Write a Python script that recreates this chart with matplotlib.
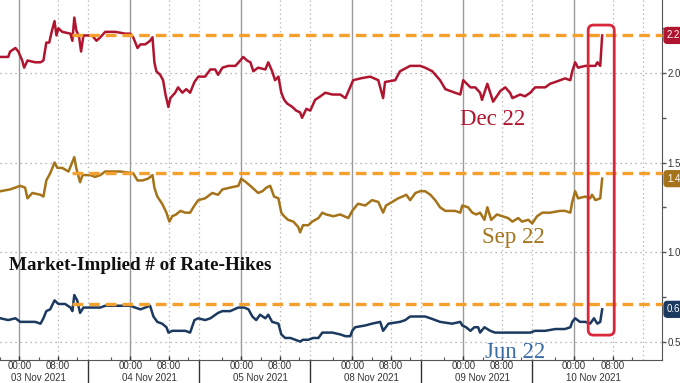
import matplotlib.pyplot as plt
from matplotlib.patches import FancyBboxPatch
from matplotlib.transforms import blended_transform_factory

# x unit: trading hours since 03 Nov 2021 00:00 (23 trading hours per session)
dec_t = [-3.9, -2.3, -1.9, -0.8, -0.2, 0.6, 1.0, 1.7, 3.3, 4.4, 5.0, 5.6, 6.2, 6.8, 7.3, 7.7,
         8.1, 8.9, 10.6, 11.0, 11.4, 11.8, 12.4, 12.8, 13.3, 14.3, 15.1, 16.0, 16.8, 17.8, 19.9,
         22.0, 23.0, 23.6, 24.5, 25.1, 26.1, 27.1, 27.6, 28.0, 28.4, 29.2, 29.8, 30.3, 30.9,
         31.3, 32.3, 32.9, 33.8, 34.6, 35.4, 36.3, 37.1, 38.5, 39.6, 40.6, 41.2, 42.1, 43.3,
         44.8, 45.8, 46.4, 47.2, 47.9, 48.5, 49.5, 51.0, 51.6, 52.4, 53.0, 53.7, 54.3, 54.9,
         55.5, 56.6, 57.4, 58.2, 58.6, 59.5, 60.3, 61.3, 62.4, 63.4, 64.9, 66.5, 67.6, 69.2,
         70.7, 72.7, 74.4, 75.4, 75.8, 77.9, 78.9, 81.0, 83.1, 84.1, 85.6, 87.2, 88.3, 90.3,
         91.4, 92.0, 93.5, 94.5, 95.5, 95.9, 97.0, 98.2, 99.7, 100.7, 101.7, 102.2, 103.8,
         104.8, 105.9, 106.9, 109.0, 110.0, 111.1, 112.1, 113.1, 114.2, 114.6, 115.2, 115.8,
         117.3, 119.4, 119.8, 120.4, 120.8]
dec_v = [2.09, 2.09, 2.12, 2.14, 2.12, 2.07, 2.03, 2.07, 2.06, 2.06, 2.07, 2.17, 2.17, 2.24,
         2.29, 2.21, 2.25, 2.23, 2.22, 2.18, 2.31, 2.24, 2.20, 2.12, 2.21, 2.21, 2.21, 2.18,
         2.20, 2.23, 2.23, 2.22, 2.22, 2.20, 2.14, 2.16, 2.16, 2.18, 2.20, 2.06, 2.01, 1.99,
         1.96, 1.88, 1.81, 1.86, 1.89, 1.92, 1.89, 1.91, 1.89, 1.95, 1.98, 1.98, 2.02, 2.02,
         1.99, 2.03, 2.04, 2.04, 2.07, 2.09, 2.07, 2.06, 2.01, 2.03, 2.02, 2.06, 2.01, 1.96,
         1.98, 1.89, 1.85, 1.83, 1.81, 1.79, 1.78, 1.75, 1.80, 1.79, 1.85, 1.87, 1.89, 1.88,
         1.88, 1.86, 1.96, 1.97, 1.98, 1.96, 1.86, 1.95, 1.96, 2.01, 2.04, 2.04, 2.03, 2.01,
         1.96, 1.91, 1.89, 1.88, 1.96, 1.92, 1.92, 1.89, 1.85, 1.94, 1.84, 1.90, 1.92, 1.89,
         1.86, 1.88, 1.87, 1.89, 1.92, 1.92, 1.94, 1.95, 1.96, 1.97, 1.96, 2.01, 2.06, 2.03,
         2.04, 2.04, 2.06, 2.04, 2.21]

sep_t = [-3.9, -1.9, 0.2, 1.2, 1.7, 2.7, 4.4, 5.0, 5.6, 6.4, 7.3, 7.9, 8.9, 10.2, 11.4, 11.8,
         12.6, 13.1, 14.7, 15.7, 16.8, 17.8, 20.9, 23.6, 24.5, 25.5, 26.7, 27.6, 28.0, 28.6,
         29.6, 30.5, 31.1, 31.7, 32.5, 33.4, 34.4, 35.4, 36.3, 37.1, 38.5, 40.0, 41.2, 42.1,
         43.7, 45.4, 46.0, 47.0, 48.3, 49.5, 50.4, 51.2, 52.0, 52.8, 53.7, 54.3, 54.9, 55.7,
         56.8, 57.8, 58.2, 58.8, 59.9, 60.7, 62.0, 62.8, 63.6, 65.1, 66.5, 68.2, 69.0, 70.2,
         71.7, 73.1, 74.4, 75.4, 76.0, 77.3, 78.5, 79.4, 80.2, 81.0, 82.1, 83.1, 84.1, 85.2,
         86.2, 87.2, 88.3, 90.3, 91.4, 91.8, 93.0, 93.9, 94.7, 95.5, 96.4, 97.0, 97.8, 99.0,
         100.1, 101.3, 102.2, 103.4, 104.2, 105.5, 106.3, 107.3, 108.4, 110.0, 112.1, 113.1,
         114.2, 114.6, 115.2, 115.8, 117.3, 118.3, 118.7, 119.4, 120.4, 120.8]
sep_v = [1.34, 1.35, 1.37, 1.36, 1.30, 1.33, 1.32, 1.31, 1.40, 1.44, 1.50, 1.47, 1.47, 1.45,
         1.53, 1.47, 1.39, 1.43, 1.43, 1.42, 1.43, 1.45, 1.45, 1.44, 1.40, 1.40, 1.41, 1.43,
         1.36, 1.31, 1.27, 1.22, 1.17, 1.20, 1.21, 1.23, 1.22, 1.22, 1.26, 1.29, 1.30, 1.33,
         1.32, 1.35, 1.36, 1.37, 1.41, 1.39, 1.36, 1.33, 1.34, 1.36, 1.37, 1.31, 1.30, 1.22,
         1.20, 1.18, 1.17, 1.14, 1.11, 1.15, 1.15, 1.17, 1.19, 1.22, 1.21, 1.20, 1.21, 1.19,
         1.23, 1.27, 1.26, 1.29, 1.28, 1.22, 1.26, 1.28, 1.30, 1.31, 1.32, 1.29, 1.33, 1.34,
         1.34, 1.32, 1.29, 1.25, 1.23, 1.23, 1.22, 1.26, 1.25, 1.22, 1.21, 1.22, 1.18, 1.25,
         1.18, 1.21, 1.20, 1.19, 1.17, 1.19, 1.17, 1.18, 1.16, 1.20, 1.22, 1.22, 1.23, 1.23,
         1.22, 1.28, 1.34, 1.30, 1.31, 1.30, 1.32, 1.29, 1.30, 1.41]

jun_t = [-3.9, -2.3, -0.8, 0.2, 3.3, 4.4, 5.0, 5.6, 6.4, 7.3, 8.1, 9.5, 10.6, 11.0, 11.4, 12.0,
         12.6, 13.3, 14.7, 16.8, 17.8, 22.0, 23.0, 24.0, 25.1, 26.1, 27.1, 27.8, 28.6, 29.6,
         30.5, 30.9, 31.7, 34.4, 35.4, 36.3, 37.1, 38.5, 39.6, 41.2, 42.1, 43.7, 45.4, 46.6,
         47.5, 48.3, 49.1, 49.9, 51.0, 51.6, 52.4, 53.7, 54.3, 55.1, 56.2, 57.2, 58.2, 58.8,
         59.9, 60.9, 62.0, 62.8, 63.6, 64.9, 66.5, 67.6, 68.6, 69.0, 69.6, 71.7, 73.1, 74.8,
         75.4, 76.5, 78.9, 80.0, 81.0, 83.1, 84.1, 85.2, 86.2, 87.2, 89.7, 91.4, 91.8, 92.6,
         93.5, 94.3, 95.1, 95.5, 96.4, 97.6, 98.6, 99.7, 103.8, 105.9, 106.9, 109.0, 111.1,
         113.1, 114.2, 114.6, 115.2, 116.2, 117.3, 118.3, 119.1, 119.8, 120.4, 120.8]
jun_v = [0.63, 0.62, 0.63, 0.61, 0.61, 0.60, 0.63, 0.67, 0.68, 0.73, 0.71, 0.71, 0.69, 0.67,
         0.76, 0.73, 0.66, 0.69, 0.69, 0.69, 0.70, 0.70, 0.70, 0.69, 0.68, 0.69, 0.70, 0.64,
         0.61, 0.60, 0.58, 0.55, 0.56, 0.56, 0.55, 0.62, 0.63, 0.62, 0.63, 0.66, 0.67, 0.67,
         0.69, 0.69, 0.68, 0.64, 0.62, 0.65, 0.63, 0.65, 0.61, 0.60, 0.54, 0.52, 0.52, 0.51,
         0.50, 0.51, 0.51, 0.52, 0.52, 0.55, 0.55, 0.55, 0.54, 0.53, 0.53, 0.56, 0.58, 0.59,
         0.60, 0.61, 0.56, 0.60, 0.61, 0.62, 0.64, 0.64, 0.64, 0.63, 0.62, 0.61, 0.60, 0.61,
         0.59, 0.58, 0.56, 0.58, 0.58, 0.55, 0.58, 0.56, 0.55, 0.55, 0.55, 0.55, 0.56, 0.56,
         0.57, 0.57, 0.58, 0.61, 0.63, 0.61, 0.61, 0.60, 0.63, 0.60, 0.61, 0.68]

day_labels = ['03 Nov 2021', '04 Nov 2021', '05 Nov 2021', '08 Nov 2021', '09 Nov 2021', '10 Nov 2021']
session_len = 23
day_split = 14.3          # session break after midnight
prior_high = [2.21, 1.44, 0.71]
prior_high_start = 11.0
last_labels = ['2.2', '1.4', '0.6']
last_values = [2.21, 1.41, 0.68]
box_span = (117.9, 123.3, 0.536, 2.268)

c_dec = '#b0152f'
c_sep = '#a5731a'
c_jun = '#1c3a60'
c_dash = '#f5a02c'
c_box = '#d8283a'

fig = plt.figure(figsize=(6.8, 3.83), dpi=100)
ax = fig.add_axes([0, 23 / 383, 662 / 680, 360 / 383])
ax.set_xlim(-3.94, 133.2)
ax.set_ylim(0.397, 2.408)

# grid
for i in range(len(day_labels)):
    d0 = i * session_len
    ax.axvline(d0, color='#9a9a9a', lw=1.0, zorder=1)
    ax.axvline(d0 + 8, color='#b0b0b0', lw=0.9, ls=(0, (1, 2.5)), zorder=1)
    ax.axvline(d0 + day_split, color='#b0b0b0', lw=0.9, ls=(0, (1, 2.5)), zorder=1)
for y in [0.5, 1.0, 1.5, 2.0]:
    ax.axhline(y, color='#a0a0a0', lw=0.9, ls=(0, (1, 3)), zorder=1)

ax.plot(dec_t, dec_v, color=c_dec, lw=1.8, zorder=3)
ax.plot(sep_t, sep_v, color=c_sep, lw=1.8, zorder=3)
ax.plot(jun_t, jun_v, color=c_jun, lw=1.8, zorder=3)

for lvl in prior_high:
    ax.plot([prior_high_start, 133.2], [lvl, lvl], color=c_dash, lw=2.4,
            ls=(0, (3.2, 1.8)), zorder=4, clip_on=False)

# highlight box
x0, x1, y0, y1 = box_span
ux = 133.2 + 3.94
uy = 2.408 - 0.397
asp = (uy / 360) / (ux / 662)
box = FancyBboxPatch((x0, y0), x1 - x0, y1 - y0,
                     boxstyle='round,pad=0,rounding_size=1.1', mutation_aspect=asp,
                     fill=False, ec=c_box, lw=2.0, zorder=5)
ax.add_patch(box)

# text
serif = 'Liberation Serif'
ax.text(98.0, 1.74, 'Dec 22', color=c_dec, fontsize=16.5, family=serif,
        ha='center', va='center', zorder=6)
ax.text(102.4, 1.08, 'Sep 22', color=c_sep, fontsize=16.5, family=serif,
        ha='center', va='center', zorder=6)
ax.text(102.8, 0.44, 'Jun 22', color='#3b6ca6', fontsize=16.5, family=serif,
        ha='center', va='center', zorder=6, clip_on=False)
ax.text(0.014, 0.262, 'Market-Implied # of Rate-Hikes', transform=ax.transAxes,
        fontsize=13.8, family=serif, fontweight='bold', color='#111111',
        ha='left', va='center', zorder=6)

# right axis
ax.yaxis.tick_right()
ax.set_yticks([0.5, 1.0, 1.5, 2.0])
ax.set_yticklabels(['0.5', '1.0', '1.5', '2.0'], family='Liberation Sans')
ax.set_yticks([0.75, 1.25, 1.75, 2.25], minor=True)
ax.tick_params(axis='y', which='major', direction='out', length=3, width=1,
               color='#555555', labelsize=7, labelcolor='#333333', pad=0.8)
ax.tick_params(axis='y', which='minor', direction='out', length=3, width=1, color='#555555')

trans_r = blended_transform_factory(ax.transAxes, ax.transData)
for lab, val, col in zip(last_labels, last_values, [c_dec, c_sep, c_jun]):
    ax.text(1.0075, val, lab, transform=trans_r, color='white', fontsize=7,
            family='Liberation Sans', ha='left', va='center', clip_on=False, zorder=7,
            bbox=dict(boxstyle='round,pad=0.3,rounding_size=0.35', fc=col, ec=col))

# bottom axis
xt = []
xl = []
for i in range(len(day_labels)):
    xt += [i * session_len, i * session_len + 8]
    xl += ['00:00', '08:00']
ax.set_xticks(xt)
ax.set_xticklabels(xl)
ax.set_xticks([i * session_len + h for i in range(len(day_labels)) for h in (-4, 4, 12)], minor=True)
ax.tick_params(axis='x', which='major', direction='in', length=3, width=1,
               color='#333333', labelsize=7, labelcolor='#333333', pad=1)
ax.tick_params(axis='x', which='minor', direction='in', length=2, width=0.8, color='#555555')
for lab in ax.get_xticklabels():
    lab.set_family('Liberation Sans')

trans_b = blended_transform_factory(ax.transData, ax.transAxes)
for i, lab in enumerate(day_labels):
    ax.text(i * session_len + 4, -0.05, lab, transform=trans_b, fontsize=7,
            family='Liberation Sans', color='#333333', ha='center', va='center')
    if i < len(day_labels) - 1:
        ax.plot([i * session_len + day_split] * 2, [0, -0.07], transform=trans_b,
                color='#333333', lw=1.0, clip_on=False)

for side in ['top', 'left']:
    ax.spines[side].set_visible(False)
ax.spines['right'].set_color('#555555')
ax.spines['bottom'].set_color('#555555')

fig.savefig('out.png', dpi=100)
